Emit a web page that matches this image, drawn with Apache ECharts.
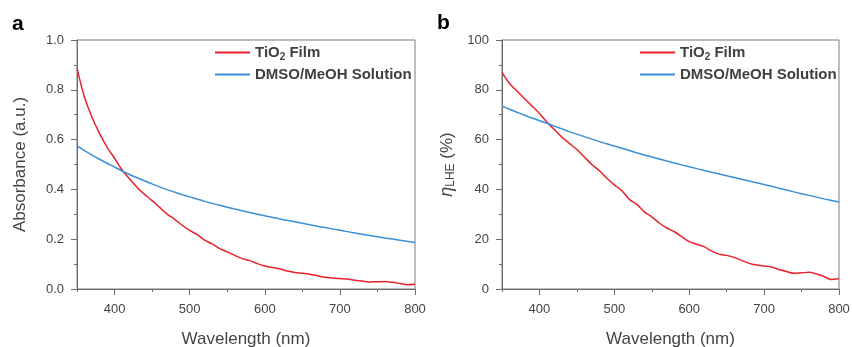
<!DOCTYPE html>
<html><head><meta charset="utf-8">
<script src="https://cdn.jsdelivr.net/npm/echarts@6/dist/echarts.min.js"></script>
<style>html,body{margin:0;padding:0;background:#fff}#c{width:852px;height:347px}</style>
</head><body><div id="c"></div>
<script>
// ---- data ----
const filmWl = [350,360,370,380,390,400,410,420,430,440,450,460,470,480,490,500,510,520,530,540,550,560,570,580,590,600,610,620,630,640,650,660,670,680,690,700,710,720,730,740,750,760,770,780,790,800];
const filmAbs = [0.886,0.77,0.69,0.625,0.57,0.525,0.478,0.442,0.408,0.38,0.355,0.328,0.301,0.28,0.256,0.235,0.218,0.196,0.181,0.162,0.149,0.135,0.122,0.114,0.102,0.092,0.086,0.081,0.072,0.066,0.063,0.059,0.053,0.047,0.044,0.042,0.040,0.035,0.032,0.028,0.029,0.030,0.027,0.022,0.017,0.019];
const filmLhe = [87,82.5,79.5,76.5,73.5,70.5,67,64,61,58.5,56,53,50,47.5,44.5,41.8,39.5,36,34,31,29,26.5,24.5,23,21,19,18,17,15.2,14,13.5,12.7,11.5,10.3,9.6,9.2,8.8,7.8,7,6.3,6.5,6.7,6,5,3.8,4.2];
const solWl = [350,360,370,380,390,400,410,420,430,440,450,460,470,480,490,500,520,540,560,580,600,620,640,660,680,700,720,740,760,780,800];
const solAbs = [0.575,0.556,0.538,0.521,0.505,0.490,0.474,0.460,0.447,0.434,0.422,0.410,0.399,0.389,0.379,0.370,0.352,0.336,0.321,0.307,0.294,0.281,0.270,0.258,0.247,0.236,0.225,0.215,0.205,0.196,0.187];
const solLhe = [73.4,72.2,71,69.8,68.7,67.6,66.5,65.4,64.3,63.2,62.2,61.2,60.2,59.2,58.3,57.4,55.6,53.8,52.2,50.6,49.1,47.6,46.2,44.8,43.4,42.0,40.5,39.0,37.6,36.2,34.9];
const xMajor = [400,500,600,700,800];
const xMinor = [350,450,550,650,750];
const seriesNames = ['TiO2 Film','DMSO/MeOH Solution'];

const pairs = (xs, ys) => xs.map((x,i)=>[x,ys[i]]);
const axisCol = '#6b6b6b', txtCol = '#444';
const FONT = 'Liberation Sans, Arial, sans-serif';

function xAxes(gi){
  return [{
    gridIndex: gi, type:'value', min:350, max:800, position:'bottom',
    name:'Wavelength (nm)', nameLocation:'middle', nameGap:42,
    nameTextStyle:{fontSize:17, color:txtCol, fontFamily:FONT},
    axisLine:{lineStyle:{color:axisCol, width:1}},
    axisTick:{show:true, inside:false, length:6, customValues:xMajor, lineStyle:{color:axisCol}},
    axisLabel:{customValues:xMajor, fontSize:13, color:txtCol, margin:14, fontFamily:FONT},
    splitLine:{show:false}
  },{
    gridIndex: gi, type:'value', min:350, max:800, position:'bottom',
    axisLine:{show:false},
    axisTick:{show:true, length:3, customValues:xMinor, lineStyle:{color:axisCol}},
    axisLabel:{show:false}, splitLine:{show:false}
  }];
}

const opt = {
  animation:false,
  textStyle:{fontFamily:FONT},
  grid:[
    {left:77, right:437, top:40, bottom:58, outerBoundsMode:'none', containLabel:false, show:true, borderColor:'#7a7a7a', borderWidth:1, backgroundColor:'transparent'},
    {left:502, right:13, top:40, bottom:58, outerBoundsMode:'none', containLabel:false, show:true, borderColor:'#7a7a7a', borderWidth:1, backgroundColor:'transparent'}
  ],
  xAxis: [...xAxes(0), ...xAxes(1)],
  yAxis: [{
    gridIndex:0, type:'value', min:0, max:1, interval:0.2,
    name:'Absorbance (a.u.)', nameLocation:'middle', nameGap:48,
    nameTextStyle:{fontSize:17, color:txtCol, fontFamily:FONT},
    axisLine:{show:true, lineStyle:{color:axisCol}},
    axisTick:{show:true, length:6, lineStyle:{color:axisCol}},
    minorTick:{show:true, splitNumber:2, length:3, lineStyle:{color:axisCol}},
    axisLabel:{fontSize:13, color:txtCol, margin:13, formatter:v=>v.toFixed(1), fontFamily:FONT},
    splitLine:{show:false}
  },{
    gridIndex:1, type:'value', min:0, max:100, interval:20,
    name:'{i|η}{s|LHE}{n| (%)}', nameLocation:'middle', nameGap:45,
    nameTextStyle:{color:txtCol, fontFamily:FONT, rich:{
      i:{fontSize:18, fontStyle:'italic', color:txtCol, fontFamily:FONT},
      s:{fontSize:12, color:txtCol, fontFamily:FONT, verticalAlign:'bottom', padding:[8,0,0,0]},
      n:{fontSize:17, color:txtCol, fontFamily:FONT}
    }},
    axisLine:{show:true, lineStyle:{color:axisCol}},
    axisTick:{show:true, length:6, lineStyle:{color:axisCol}},
    minorTick:{show:true, splitNumber:2, length:3, lineStyle:{color:axisCol}},
    axisLabel:{fontSize:13, color:txtCol, margin:13, fontFamily:FONT},
    splitLine:{show:false}
  }],
  legend:[0,1].map(k=>({
    orient:'vertical', left: k===0 ? 215 : 640, top:45, padding:0,
    itemWidth:35, itemHeight:2, itemGap:5, icon:'rect',
    data: seriesNames,
    formatter: n => n==='TiO2 Film' ? '{a|TiO}{b|2}{a| Film}' : '{a|'+n+'}',
    textStyle:{fontSize:15, fontWeight:'bold', color:'#404040', fontFamily:FONT,
      rich:{a:{fontSize:15, fontWeight:'bold', color:'#404040', fontFamily:FONT, height:18},
            b:{fontSize:10, fontWeight:'bold', color:'#404040', fontFamily:FONT, verticalAlign:'bottom', padding:[9,0,0,0]}}},
    selectedMode:false
  })),
  graphic:[
    {type:'text', left:12, top:14, style:{text:'a', font:'bold 21px '+FONT, fill:'#000'}},
    {type:'text', left:437, top:13, style:{text:'b', font:'bold 21px '+FONT, fill:'#000'}}
  ],
  series:[
    {name:seriesNames[0], type:'line', xAxisIndex:0, yAxisIndex:0, data:pairs(filmWl, filmAbs), showSymbol:false, symbol:'none', smooth:0.3, lineStyle:{color:'#e8212b', width:1.5}, itemStyle:{color:'#e8212b'}},
    {name:seriesNames[1], type:'line', xAxisIndex:0, yAxisIndex:0, data:pairs(solWl, solAbs), showSymbol:false, symbol:'none', smooth:0.3, lineStyle:{color:'#3b8fd5', width:1.5}, itemStyle:{color:'#3b8fd5'}},
    {name:seriesNames[0], type:'line', xAxisIndex:2, yAxisIndex:1, data:pairs(filmWl, filmLhe), showSymbol:false, symbol:'none', smooth:0.3, lineStyle:{color:'#e8212b', width:1.5}, itemStyle:{color:'#e8212b'}},
    {name:seriesNames[1], type:'line', xAxisIndex:2, yAxisIndex:1, data:pairs(solWl, solLhe), showSymbol:false, symbol:'none', smooth:0.3, lineStyle:{color:'#3b8fd5', width:1.5}, itemStyle:{color:'#3b8fd5'}}
  ]
};
const chart = echarts.init(document.getElementById('c'), null, {renderer:'canvas'});
chart.setOption(opt);
</script></body></html>
